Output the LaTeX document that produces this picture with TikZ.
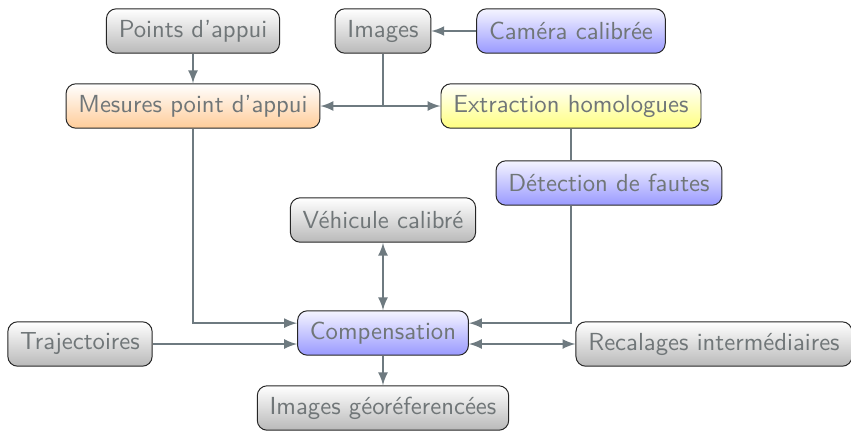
\documentclass[tikz,border=0pt]{standalone}
\usepackage{fontspec}
\usepackage{tikz}
\usetikzlibrary{arrows}
\definecolor{texte}{RGB}{112,118,120}
\definecolor{lien}{RGB}{110,122,128}

\begin{document}
\begin{tikzpicture}
	[x=0.405pt,y=-0.405pt,
	every node/.style={rounded corners=4pt,draw=black!85,text=texte,font=\sffamily,inner xsep=5pt,minimum height=18pt},
	gris/.style={top color=white,bottom color=gray!55},
	orangebox/.style={top color=white,bottom color=orange!40},
	bleu/.style={top color=blue!4,bottom color=blue!40},
	jaune/.style={top color=white,bottom color=yellow!50},
	trait/.style={draw=lien,line width=0.8pt},
	fleche/.style={trait,-latex}]
	\useasboundingbox (0,0) rectangle (851,432);
	\node[gris] (pts) at (193,31) {Points d'appui};
	\node[gris] (img) at (383,31) {Images};
	\node[bleu] (cam) at (571,31) {Caméra calibrée};
	\node[orangebox] (mes) at (193,106) {Mesures point d'appui};
	\node[jaune] (ext) at (571,106) {Extraction homologues};
	\node[bleu] (det) at (609,183) {Détection de fautes};
	\node[gris] (veh) at (383,220) {Véhicule calibré};
	\node[bleu] (comp) at (383,333) {Compensation};
	\node[gris] (traj) at (80,344) {Trajectoires};
	\node[gris] (rec) at (714,344) {Recalages intermédiaires};
	\node[gris] (geo) at (383,408) {Images géoréferencées};
	\coordinate (split) at (img |- mes);

	\foreach \from/\to in {pts/mes,cam/img,split/mes,split/ext,comp/geo}
	\draw[fleche] (\from) -- (\to);
	\draw[trait] (img) -- (split);
	\draw[trait] (ext.south) -- (ext.south |- det.north);
	\draw[fleche] (det.south -| ext.south) |- ([yshift=4pt]comp.east);
	\draw[fleche] (mes.south) |- ([yshift=4pt]comp.west);
	\draw[fleche] (traj.east) -- (traj.east -| comp.west);
	\draw[trait,latex-latex] (comp.east |- rec.west) -- (rec.west);
	\draw[trait,latex-latex] (veh) -- (comp);
\end{tikzpicture}
\end{document}
